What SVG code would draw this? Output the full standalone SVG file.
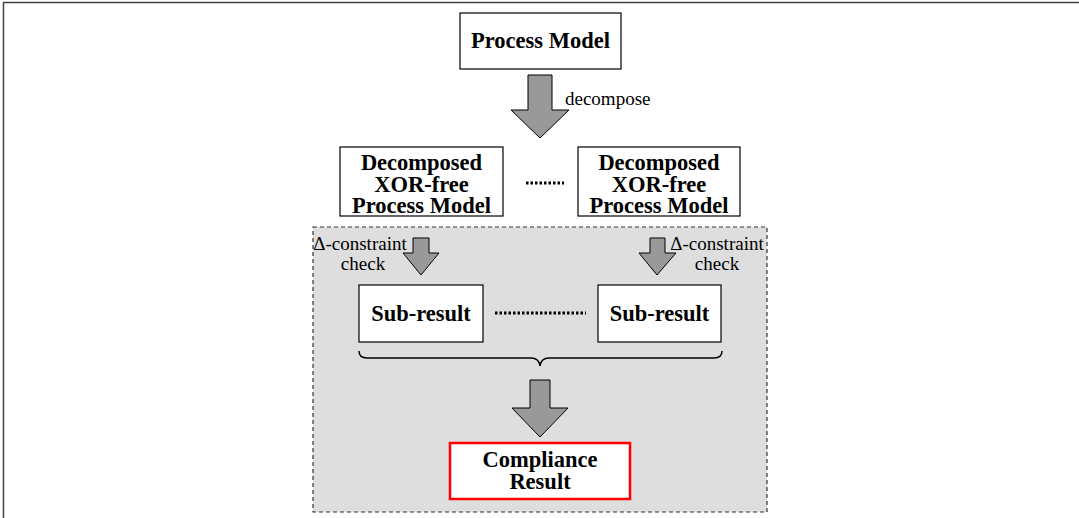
<svg xmlns="http://www.w3.org/2000/svg" width="1079" height="518" viewBox="0 0 1079 518">
<style>
.box{fill:#fff;stroke:#000;stroke-width:1.2}
.red{fill:#fff;stroke:#f00;stroke-width:2.5}
.arr{fill:#999;stroke:#000;stroke-width:1}
.b{font-family:"Liberation Serif",serif;font-weight:bold;font-size:22.5px;text-anchor:middle;fill:#000}
.r{font-family:"Liberation Serif",serif;font-size:19px;fill:#000}
.dots{stroke:#000;stroke-width:3;stroke-dasharray:2.5 2}
</style>
<rect width="1079" height="518" fill="#fff"/>
<path d="M3.5,518 V2.5 H1079" fill="none" stroke="#444" stroke-width="1.5"/>
<rect id="region" x="313" y="227" width="454" height="285" fill="#dedede" stroke="#333" stroke-width="1.2" stroke-dasharray="4 3"/>
<g id="connectors">
<polygon class="arr" points="528,75 552,75 552,110 569,110 540,138 511,110 528,110"/>
<polygon class="arr" points="413,238 429,238 429,253 439,253 421,275 403,253 413,253"/>
<polygon class="arr" points="650,238 665,238 665,253 676,253 657,275 639,253 650,253"/>
<polygon class="arr" points="530,380 550,380 550,408 568,408 540,437 512,408 530,408"/>
<line class="dots" x1="526" y1="183" x2="564" y2="183"/>
<line class="dots" x1="495" y1="313" x2="586" y2="313"/>
<path d="M359,351 Q359,358 367,358 L531,358 Q539,358 540,366 Q541,358 549,358 L714,358 Q722,358 722,351" fill="none" stroke="#000" stroke-width="1.5"/>
<text class="r" x="565" y="105">decompose</text>
<text class="r" x="360" y="250" text-anchor="middle">Δ-constraint</text>
<text class="r" x="363" y="270" text-anchor="middle">check</text>
<text class="r" x="717" y="250" text-anchor="middle">Δ-constraint</text>
<text class="r" x="717" y="270" text-anchor="middle">check</text>
</g>
<g id="process-model">
<rect class="box" x="460" y="13" width="161" height="56"/>
<text class="b" x="540.5" y="48" font-size="23px">Process Model</text>
</g>
<g id="decomposed-left">
<rect class="box" x="340" y="147" width="163" height="69"/>
<text class="b" x="421.5" y="170">Decomposed</text>
<text class="b" x="421.5" y="191.5">XOR-free</text>
<text class="b" x="421.5" y="213">Process Model</text>
</g>
<g id="decomposed-right">
<rect class="box" x="578" y="147" width="162" height="69"/>
<text class="b" x="659" y="170">Decomposed</text>
<text class="b" x="659" y="191.5">XOR-free</text>
<text class="b" x="659" y="213">Process Model</text>
</g>
<g id="subresult-left">
<rect class="box" x="359" y="285" width="124" height="57"/>
<text class="b" x="421" y="321">Sub-result</text>
</g>
<g id="subresult-right">
<rect class="box" x="598" y="285" width="123" height="57"/>
<text class="b" x="659.5" y="321">Sub-result</text>
</g>
<g id="compliance-result">
<rect class="red" x="450" y="443" width="180" height="56"/>
<text class="b" x="540" y="467">Compliance</text>
<text class="b" x="540" y="489">Result</text>
</g>
</svg>
